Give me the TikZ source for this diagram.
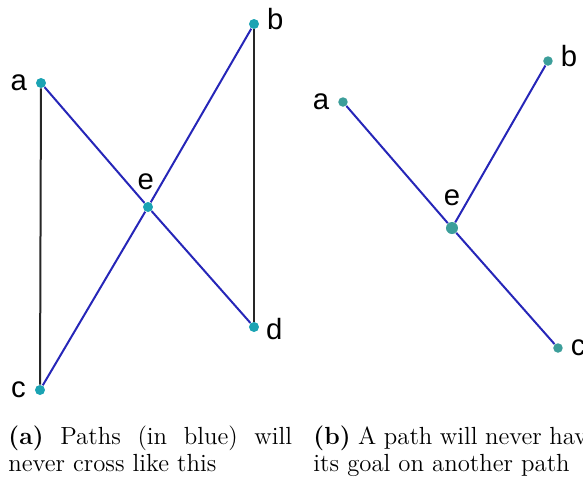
\documentclass[tikz,border=0pt]{standalone}
\usepackage{fontspec}
\newfontfamily\labelfont{Liberation Sans}
\usetikzlibrary{positioning}
\definecolor{pathblue}{RGB}{38,38,184}
\definecolor{dotteal}{RGB}{27,163,179}
\definecolor{dotgreen}{RGB}{60,158,154}

\tikzset{
  vert/.style={circle, fill=dotteal, inner sep=0pt, minimum size=10pt*0.444},
  vertb/.style={vert, fill=dotgreen, minimum size=9.5pt*0.444},
  lbl/.style={font=\labelfont\fontsize{13}{15}\selectfont, inner sep=1pt},
  pathline/.style={line width=2*0.444pt, color=pathblue},
  edgeline/.style={line width=2*0.444pt, color=black!85},
  subcap/.style={text width=126pt, align=justify, inner sep=0pt, anchor=base west, font=\fontsize{11}{12}\selectfont}
}

\begin{document}
\begin{tikzpicture}[x=0.444pt, y=-0.444pt]
\clip (0,0) rectangle (583,477);

 %left graph
 \node[vert] (a) at (41,83) {};
 \node[vert] (b) at (254,24) {};
 \node[vert] (c) at (40,390) {};
 \node[vert] (d) at (254,327) {};
 \node[vert] (e) at (148,207) {};
 \node[lbl, left=6pt*0.444 of a] {a};
 \node[lbl, right=5pt*0.444 of b, yshift=2pt] {b};
 \node[lbl, left=6pt*0.444 of c] {c};
 \node[lbl, right=4pt*0.444 of d, yshift=-1pt] {d};
 \node[lbl, above=4pt of e, xshift=-1pt] {e};

 \draw[edgeline] (a) -- (c);
 \draw[edgeline] (b) -- (d);
 \draw[pathline] (a) -- (e) -- (d);
 \draw[pathline] (c) -- (e) -- (b);

 %right graph
 \node[vertb] (ra) at (343,102) {};
 \node[vertb] (rb) at (548,61) {};
 \node[vertb] (rc) at (558,348) {};
 \node[vertb, minimum size=12pt*0.444] (re) at (452,228) {};
 \node[lbl, left=6pt*0.444 of ra] {a};
 \node[lbl, right=5pt*0.444 of rb, yshift=2pt] {b};
 \node[lbl, right=5pt*0.444 of rc] {c};
 \node[lbl, above=5.7pt of re] {e};

 \draw[pathline] (ra) -- (re) -- (rc);
 \draw[pathline] (re) -- (rb);

 %captions
 \node[subcap] (capa) at (8,444) {\textbf{(a)} Paths (in blue) will never cross like this};
 \node[subcap] (capb) at (313,444) {\textbf{(b)} A path will never have its goal on another path};
\end{tikzpicture}
\end{document}
